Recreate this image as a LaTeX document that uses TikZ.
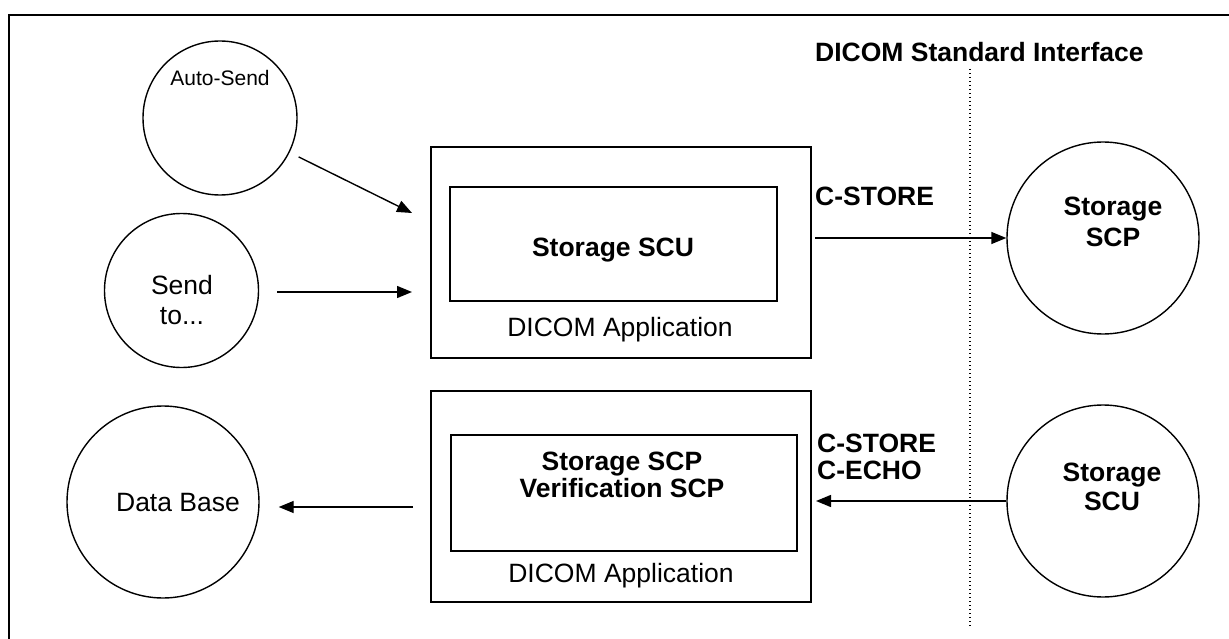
\documentclass[tikz,border=0pt]{standalone}
\usepackage{fontspec}
\setmainfont{Liberation Sans}
\usetikzlibrary{arrows.meta}
\begin{document}
\begin{tikzpicture}[x=1pt,y=-1pt,
  circ/.style={draw, circle, line width=1.4pt, inner sep=0pt},
  boxed/.style={draw, rectangle, line width=1.8pt, inner sep=0pt},
  txt/.style={font=\fontsize{26.5}{30}\selectfont, align=center, inner sep=0pt, text depth=0pt},
  btxt/.style={txt, font=\fontsize{26.5}{30}\selectfont\bfseries},
  arr/.style={line width=1.4pt, -{Triangle[length=15pt,width=12pt]}},
]
\useasboundingbox (0,0) rectangle (1229,639);
% frame
\draw[line width=2pt] (9,640) -- (9,15) -- (1230,15);
% interface line
\coordinate (dtop) at (970,69);
\coordinate (dbot) at (970,627);
\draw[line width=1.2pt, dash pattern=on 1.2pt off 2.8pt] (dtop) -- (dbot);
\node[btxt, anchor=west] (iface) at (815,52) {DICOM Standard Interface};

% circles
\node[circ, minimum size=154pt] (auto) at (220,118) {};
\node[txt, font=\fontsize{21}{25}\selectfont] (autot) at (220,78) {Auto-Send};
\node[circ, minimum size=154pt] (sendto) at (181.5,290.5) {};
\node[txt] (sendtot) at (182,300) {Send\\to...};
\node[circ, minimum size=192pt] (db) at (163,502) {};
\node[txt] (dbt) at (178,502) {Data Base};
\node[circ, minimum size=192pt] (scp) at (1103,238) {};
\node[btxt, font=\fontsize{26.5}{31}\selectfont\bfseries] (scpt) at (1113,222) {Storage\\SCP};
\node[circ, minimum size=192pt] (scu) at (1103,501) {};
\node[btxt, font=\fontsize{26.5}{29}\selectfont\bfseries] (scut) at (1112,487) {Storage\\SCU};

% application boxes
\node[boxed, minimum width=380pt, minimum height=211pt] (app1) at (621,252.5) {};
\node[boxed, minimum width=327pt, minimum height=114pt] (in1) at (613.5,244) {};
\node[btxt] (in1t) at (613,247) {Storage SCU};
\node[txt] (app1t) at (620,327) {DICOM Application};

\node[boxed, minimum width=380pt, minimum height=211pt] (app2) at (621,496.5) {};
\node[boxed, minimum width=346pt, minimum height=116pt] (in2) at (624,493) {};
\node[btxt, font=\fontsize{26.5}{27}\selectfont\bfseries] (in2t) at (622,475) {Storage SCP\\Verification SCP};
\node[txt] (app2t) at (621,573) {DICOM Application};

% labels
\node[btxt, anchor=west] (cs1) at (815,196) {C-STORE};
\node[btxt, anchor=west, align=left, font=\fontsize{26.5}{27}\selectfont\bfseries] (cs2) at (817,456.5) {C-STORE\\C-ECHO};

% connectors
\coordinate (a1) at (412,213);
\coordinate (a2) at (412,292);
\coordinate (c1) at (815,238);
\coordinate (c2) at (816,501);
\coordinate (c3) at (413,507);
\draw[arr, shorten <=10pt] (auto) -- (a1);
\draw[arr, shorten <=18pt] (sendto.east |- a2) -- (a2);
\draw[arr] (c1) -- (scp);
\draw[arr] (scu) -- (c2);
\draw[arr, shorten >=19pt] (c3) -- (db.east |- c3);
\end{tikzpicture}
\end{document}
